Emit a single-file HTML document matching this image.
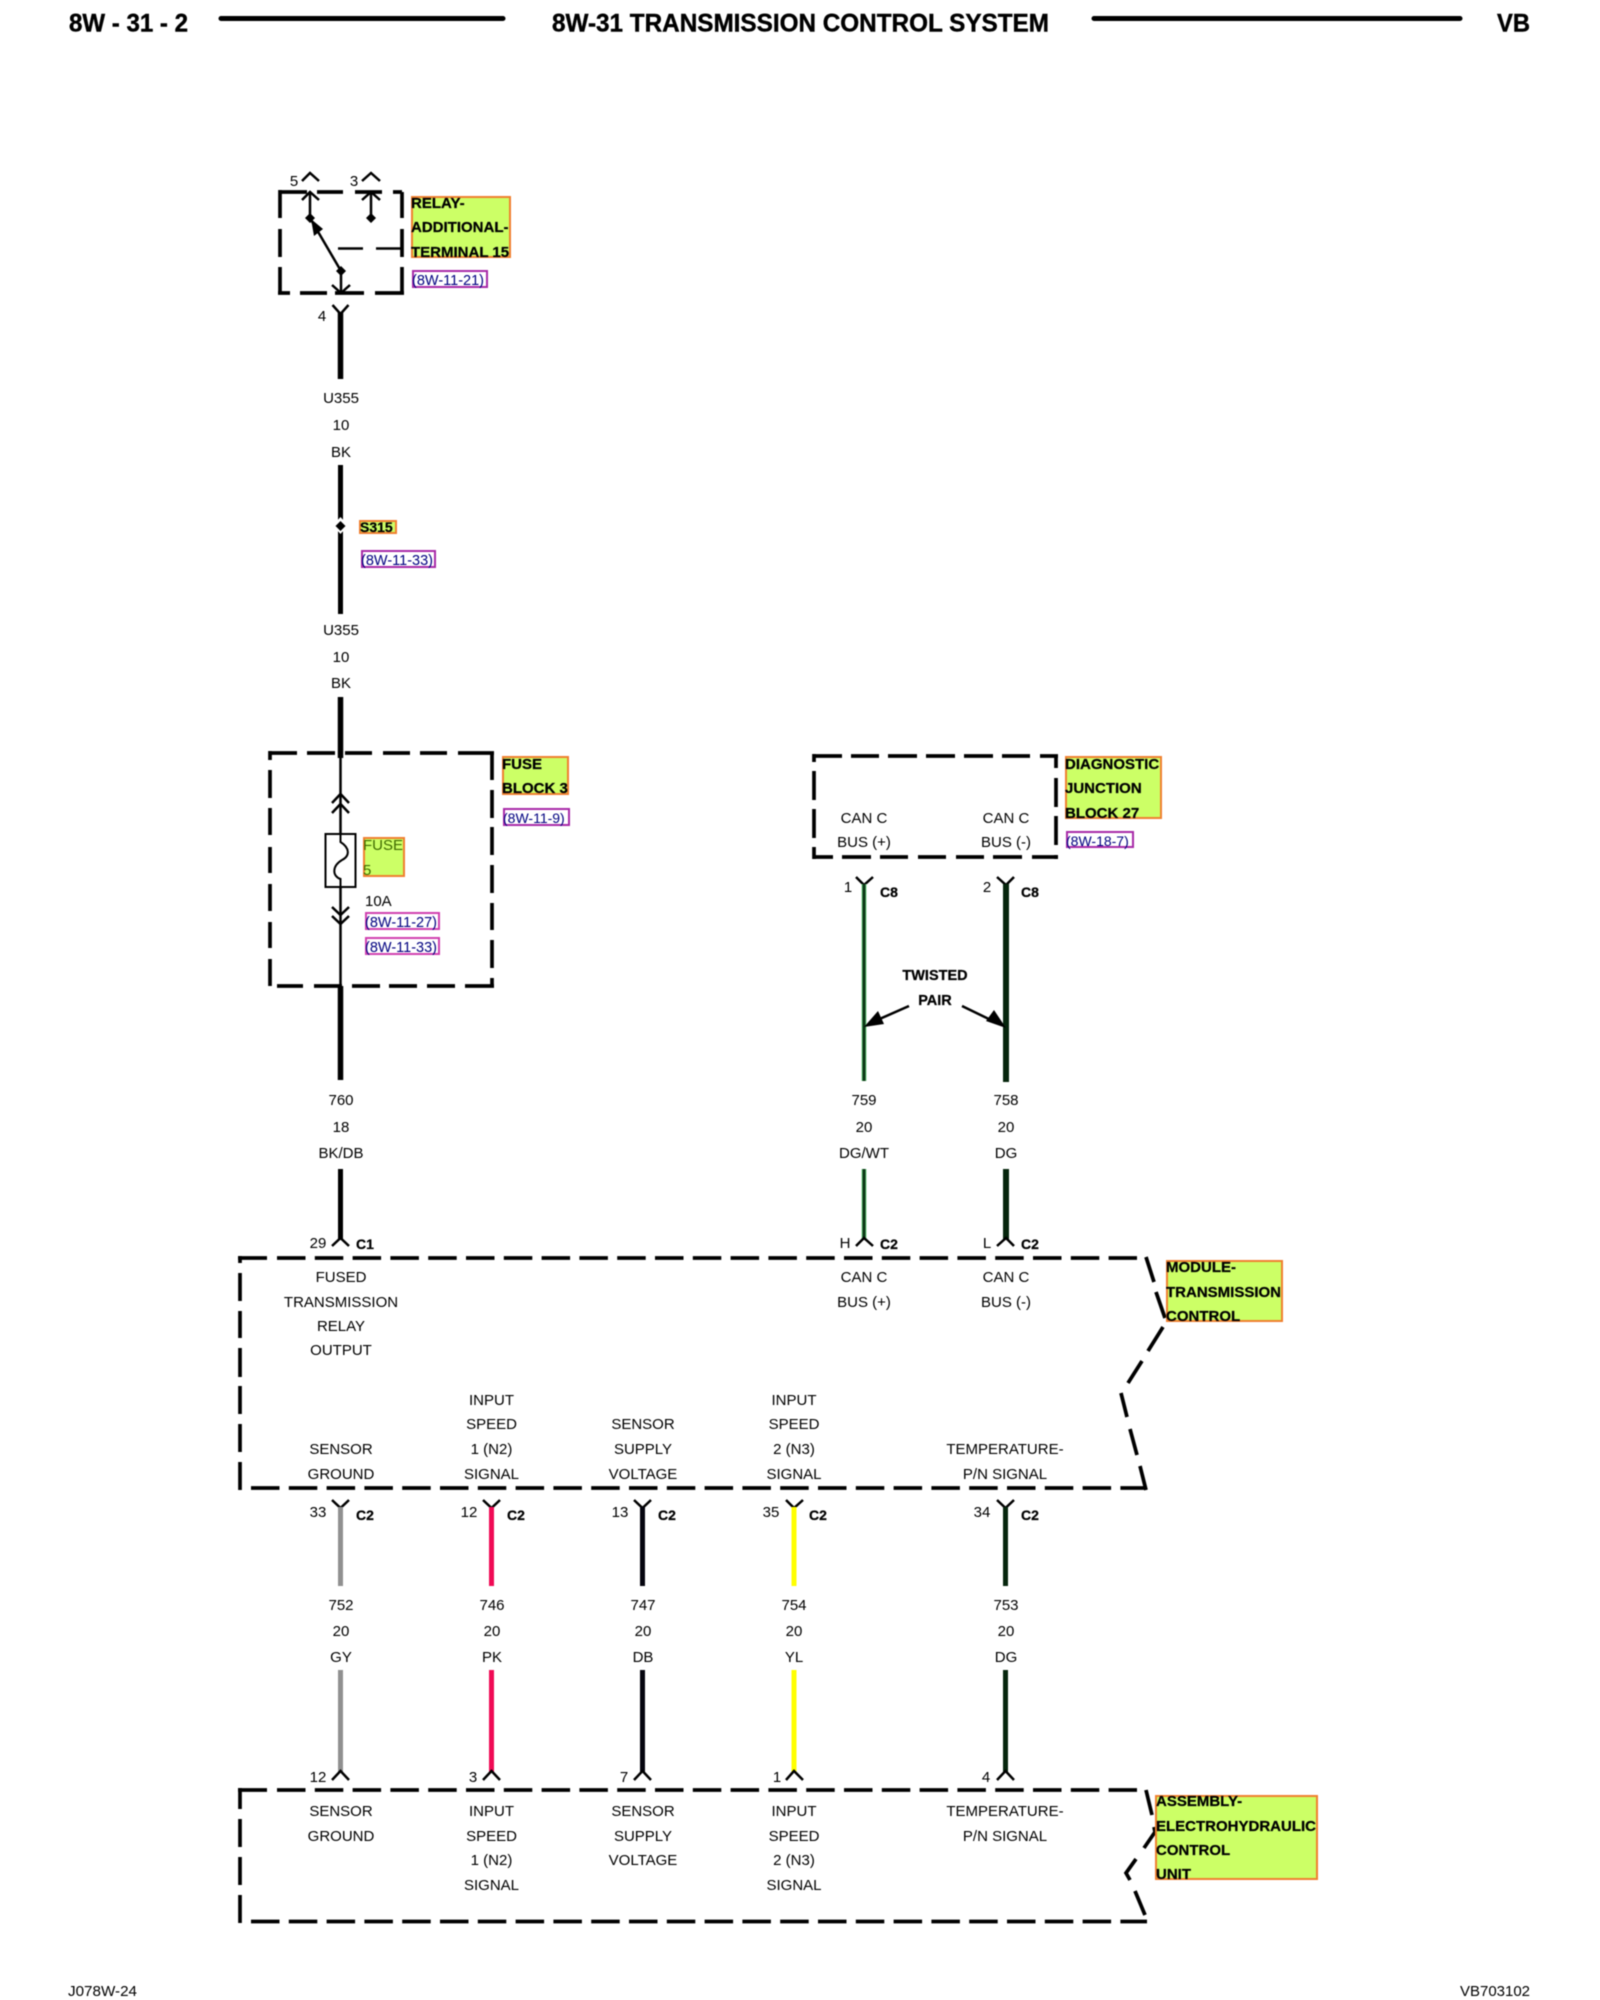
<!DOCTYPE html>
<html><head><meta charset="utf-8"><title>8W-31 Transmission Control System</title>
<style>
html,body{margin:0;padding:0;background:#fff}
svg{display:block;filter:blur(.4px)}
text{font-family:"Liberation Sans",sans-serif;font-size:15px;fill:#000}
.c{text-anchor:middle}
.b{font-weight:bold;fill:#000;stroke:#000;stroke-width:.25px}
.h{font-weight:bold;font-size:25px;fill:#000;stroke:#000;stroke-width:.4px}
.x{font-size:14.5px;fill:#000080}
.f{font-size:15px}
.l{fill:#ccff66;stroke:#f08030;stroke-width:2}
.r{fill:#fff;stroke:#a82aa8;stroke-width:2}
.d{stroke:#000;stroke-width:3.7;fill:none}
.y{stroke:#000;stroke-width:2.5;fill:none}
.k{stroke:#000;fill:none}
</style></head><body>
<svg xmlns="http://www.w3.org/2000/svg" width="1600" height="2000" viewBox="0 0 1600 2000">
<rect width="1600" height="2000" fill="#fff"/>
<!-- header -->
<text class="h" x="69" y="31.500" textLength="119" lengthAdjust="spacingAndGlyphs">8W - 31 - 2</text>
<path d="M221 18.500H503M1094 18.500H1460" stroke="#000" stroke-width="5" stroke-linecap="round"/>
<text class="h" x="552" y="31.500" textLength="497" lengthAdjust="spacingAndGlyphs">8W-31 TRANSMISSION CONTROL SYSTEM</text>
<text class="h" x="1497" y="31.500" textLength="33" lengthAdjust="spacingAndGlyphs">VB</text>

<!-- relay -->
<path class="d" d="M280 192H307M317 192H343M355 192H382M393 192H402M280 190V218M280 229V257M280 267V293M278 293H290M300 293H327M335 293H364M375 293H404M402 192V218M402 229V257M402 267V293"/>
<path class="k" stroke-width="2.500" d="M338 248.500H363M376 248.500H402"/>
<polyline class="y" points="302,181 310,173 319,181"/><polyline class="y" points="302,200 310,192 319,200"/>
<polyline class="y" points="362,181 371,173 380,181"/><polyline class="y" points="362,200 371,192 380,200"/>
<path class="k" stroke-width="2.500" d="M310 192V218M371 192V218M310 218L341 271M341 271V293"/>
<path d="M310 213l5 5-5 5-5-5zM371 213l5 5-5 5-5-5zM341 266l5 5-5 5-5-5z" fill="#000"/>
<path d="M311 219L323 229L314 236Z" fill="#000"/>
<polyline class="y" points="332,285 341,293 350,285"/>
<text x="294" y="186" class="c">5</text><text x="354" y="186" class="c">3</text>
<rect class="l" x="412" y="197" width="98" height="60"/>
<text class="b" x="411" y="208">RELAY-</text>
<text class="b" x="411" y="232">ADDITIONAL-</text>
<text class="b" x="411" y="257">TERMINAL 15</text>
<rect class="r" x="413" y="271" width="74" height="16"/>
<text class="x" x="412" y="285">(8W-11-21)</text>

<!-- top wire -->
<polyline class="y" points="332.500,305 340.500,314 348.500,305"/>
<path class="k" stroke-width="5.500" d="M340.500 312V379"/>
<text x="322" y="321" class="c">4</text>
<text class="c" x="341" y="403">U355</text><text class="c" x="341" y="430">10</text><text class="c" x="341" y="457">BK</text>
<path class="k" stroke-width="5" d="M340.500 465V614"/>
<path d="M340.500 520l5 5.500-5 5.500-5-5.500z" fill="#fff" stroke="#fff" stroke-width="4"/>
<path d="M340.500 521l5 5-5 5-5-5z" fill="#000"/>
<rect class="l" x="360" y="521" width="36" height="12"/>
<text class="b" x="360" y="532" style="font-size:14px">S315</text>
<rect class="r" x="362" y="551" width="73" height="16"/>
<text class="x" x="361" y="565">(8W-11-33)</text>
<text class="c" x="341" y="635">U355</text><text class="c" x="341" y="662">10</text><text class="c" x="341" y="688">BK</text>

<!-- fuse block -->
<path class="k" stroke-width="5.500" d="M340.500 697V758"/>
<path class="d" d="M270 753H297M307 753H335M345 753H372M383 753H410M420 753H447M458 753H494M270 751V760M270 770V798M270 808V835M270 847V873M270 884V911M270 922V948M270 959V986M277 986H303M314 986H342M352 986H380M389 986H417M427 986H455M465 986H494M492 753V780M492 790V818M492 827V855M492 865V893M492 903V930M492 940V968M492 978V986"/>
<path class="k" stroke-width="2.500" d="M340.500 758V834M340.500 887V986"/>
<polyline class="y" points="332,803 340.500,794 349,803"/><polyline class="y" points="332,813 340.500,804 349,813"/>
<polyline class="y" points="332,907 340.500,915 349,907"/><polyline class="y" points="332,916 340.500,924 349,916"/>
<rect x="325.500" y="834" width="30" height="53" fill="#fff" stroke="#000" stroke-width="2"/>
<path class="k" stroke-width="2" d="M340.500 834V842C350 848 350 856 342 860C332 866 332 876 340.500 879V887"/>
<rect class="l" x="364" y="838" width="40" height="38"/>
<text x="363" y="850" style="fill:#3f6a00">FUSE</text><text x="363" y="875" style="fill:#3f6a00">5</text>
<text x="365" y="906">10A</text>
<rect class="r" x="366" y="913" width="73" height="16" style="stroke:#d040b0"/>
<text class="x" x="365" y="927">(8W-11-27)</text>
<rect class="r" x="366" y="938" width="73" height="16" style="stroke:#d040b0"/>
<text class="x" x="365" y="952">(8W-11-33)</text>
<rect class="l" x="503" y="757" width="65" height="37"/>
<text class="b" x="502" y="769">FUSE</text><text class="b" x="502" y="793">BLOCK 3</text>
<rect class="r" x="504" y="809" width="65" height="16"/>
<text class="x" x="503" y="823" style="font-size:14px">(8W-11-9)</text>
<path class="k" stroke-width="5.500" d="M340.500 986V1080"/>
<text class="c" x="341" y="1105">760</text><text class="c" x="341" y="1132">18</text><text class="c" x="341" y="1158">BK/DB</text>
<path class="k" stroke-width="5" d="M340.500 1169V1240"/>

<!-- diagnostic -->
<path class="d" d="M814 756H842M851 756H879M888 756H917M926 756H955M964 756H993M1002 756H1030M1040 756H1058M814 754V762M814 771V800M814 809V838M814 847V859M814 857H833M842 857H871M880 857H908M918 857H946M956 857H984M993 857H1022M1032 857H1058M1056 756V768M1056 778V807M1056 816V845M1056 855V859"/>
<text class="c" x="864" y="823">CAN C</text><text class="c" x="864" y="847">BUS (+)</text>
<text class="c" x="1006" y="823">CAN C</text><text class="c" x="1006" y="847">BUS (-)</text>
<rect class="l" x="1066" y="757" width="95" height="61"/>
<text class="b" x="1065" y="769">DIAGNOSTIC</text><text class="b" x="1065" y="793">JUNCTION</text><text class="b" x="1065" y="818">BLOCK 27</text>
<rect class="r" x="1067" y="832" width="66" height="15"/>
<text class="x" x="1066" y="846" style="font-size:14px">(8W-18-7)</text>
<polyline class="y" points="856,877 864,885 873,877"/><polyline class="y" points="997,877 1006,885 1014,877"/>
<path d="M864 884V1081" stroke="#77cc88" stroke-width="5"/><path d="M864 884V1081" stroke="#0b3a16" stroke-width="3"/>
<path d="M1006 884V1082" stroke="#06260d" stroke-width="6"/>
<text class="c" x="848" y="892">1</text><text class="c" x="987" y="892">2</text>
<text class="b c" x="889" y="897" style="font-size:14px">C8</text><text class="b c" x="1030" y="897" style="font-size:14px">C8</text>
<text class="b c" x="935" y="980" style="font-size:14.500px">TWISTED</text><text class="b c" x="935" y="1005" style="font-size:14.500px">PAIR</text>
<path class="k" stroke-width="2.500" d="M909 1006L875 1021M962 1006L995 1022"/>
<path d="M864 1027L878 1011L884 1024ZM1006 1028L986 1021L994 1010Z" fill="#000"/>
<text class="c" x="864" y="1105">759</text><text class="c" x="864" y="1132">20</text><text class="c" x="864" y="1158">DG/WT</text>
<text class="c" x="1006" y="1105">758</text><text class="c" x="1006" y="1132">20</text><text class="c" x="1006" y="1158">DG</text>
<path d="M864 1169V1240" stroke="#77cc88" stroke-width="5"/><path d="M864 1169V1240" stroke="#0b3a16" stroke-width="3"/>
<path d="M1006 1169V1240" stroke="#06260d" stroke-width="6"/>

<!-- C1 connectors -->
<polyline class="y" points="332,1246 340.500,1238 349,1246"/><polyline class="y" points="856,1246 864,1238 873,1246"/><polyline class="y" points="997,1246 1006,1238 1014,1246"/>
<text class="c" x="318" y="1248">29</text><text class="b c" x="365" y="1249" style="font-size:14px">C1</text>
<text class="c" x="845" y="1248">H</text><text class="b c" x="889" y="1249" style="font-size:14px">C2</text>
<text class="c" x="987" y="1248">L</text><text class="b c" x="1030" y="1249" style="font-size:14px">C2</text>

<!-- module box -->
<path class="d" d="M238 1258H267"/>
<path class="d" stroke-dasharray="28.500 9.300" d="M277 1258H1137"/>
<path class="d" d="M240 1256V1263M240 1273V1301M240 1311V1338M240 1348V1377M240 1386V1414M240 1424V1452M240 1462V1490"/>
<path class="d" stroke-dasharray="28.500 9.300" d="M251 1488H1147"/>
<path class="d" d="M1146 1257L1154 1282M1156 1292L1165 1318M1163 1327L1148 1351M1142 1361L1128 1383M1121 1393L1127 1417M1130 1429L1137 1455M1140 1466L1146 1490"/>
<text class="c" x="341" y="1282">FUSED</text><text class="c" x="341" y="1307">TRANSMISSION</text><text class="c" x="341" y="1331">RELAY</text><text class="c" x="341" y="1355">OUTPUT</text>
<text class="c" x="864" y="1282">CAN C</text><text class="c" x="864" y="1307">BUS (+)</text>
<text class="c" x="1006" y="1282">CAN C</text><text class="c" x="1006" y="1307">BUS (-)</text>
<text class="c" x="341" y="1454">SENSOR</text><text class="c" x="341" y="1479">GROUND</text>
<text class="c" x="491.500" y="1405">INPUT</text><text class="c" x="491.500" y="1429">SPEED</text><text class="c" x="491.500" y="1454">1 (N2)</text><text class="c" x="491.500" y="1479">SIGNAL</text>
<text class="c" x="643" y="1429">SENSOR</text><text class="c" x="643" y="1454">SUPPLY</text><text class="c" x="643" y="1479">VOLTAGE</text>
<text class="c" x="794" y="1405">INPUT</text><text class="c" x="794" y="1429">SPEED</text><text class="c" x="794" y="1454">2 (N3)</text><text class="c" x="794" y="1479">SIGNAL</text>
<text class="c" x="1005" y="1454">TEMPERATURE-</text><text class="c" x="1005" y="1479">P/N SIGNAL</text>
<rect class="l" x="1167" y="1261" width="115" height="60"/>
<text class="b" x="1166" y="1272">MODULE-</text><text class="b" x="1166" y="1297">TRANSMISSION</text><text class="b" x="1166" y="1321">CONTROL</text>

<!-- lower wires -->
<g>
<polyline class="y" points="332,1500 340.500,1508 349,1500"/><polyline class="y" points="483,1500 491.500,1508 500,1500"/><polyline class="y" points="634,1500 642.500,1508 651,1500"/><polyline class="y" points="786,1500 794,1508 803,1500"/><polyline class="y" points="997,1500 1005.500,1508 1014,1500"/>
<path d="M340.500 1507V1586M340.500 1670V1772" stroke="#909090" stroke-width="5"/>
<path d="M491.500 1507V1586M491.500 1670V1772" stroke="#f00a55" stroke-width="5"/>
<path d="M642.500 1507V1586M642.500 1670V1772" stroke="#05050f" stroke-width="5"/>
<path d="M794 1507V1586M794 1670V1772" stroke="#ffff00" stroke-width="5"/>
<path d="M1005.500 1507V1586M1005.500 1670V1772" stroke="#06260d" stroke-width="5"/>
<polyline class="y" points="332,1780 340.500,1771 349,1780"/><polyline class="y" points="483,1780 491.500,1771 500,1780"/><polyline class="y" points="634,1780 642.500,1771 651,1780"/><polyline class="y" points="786,1780 794,1771 803,1780"/><polyline class="y" points="997,1780 1005.500,1771 1014,1780"/>
</g>
<text class="c" x="318" y="1517">33</text><text class="b c" x="365" y="1520" style="font-size:14px">C2</text>
<text class="c" x="469" y="1517">12</text><text class="b c" x="516" y="1520" style="font-size:14px">C2</text>
<text class="c" x="620" y="1517">13</text><text class="b c" x="667" y="1520" style="font-size:14px">C2</text>
<text class="c" x="771" y="1517">35</text><text class="b c" x="818" y="1520" style="font-size:14px">C2</text>
<text class="c" x="982" y="1517">34</text><text class="b c" x="1030" y="1520" style="font-size:14px">C2</text>
<text class="c" x="341" y="1610">752</text><text class="c" x="341" y="1636">20</text><text class="c" x="341" y="1662">GY</text>
<text class="c" x="492" y="1610">746</text><text class="c" x="492" y="1636">20</text><text class="c" x="492" y="1662">PK</text>
<text class="c" x="643" y="1610">747</text><text class="c" x="643" y="1636">20</text><text class="c" x="643" y="1662">DB</text>
<text class="c" x="794" y="1610">754</text><text class="c" x="794" y="1636">20</text><text class="c" x="794" y="1662">YL</text>
<text class="c" x="1006" y="1610">753</text><text class="c" x="1006" y="1636">20</text><text class="c" x="1006" y="1662">DG</text>
<text class="c" x="318" y="1782">12</text><text class="c" x="473" y="1782">3</text><text class="c" x="624" y="1782">7</text><text class="c" x="777" y="1782">1</text><text class="c" x="986" y="1782">4</text>

<!-- assembly box -->
<path class="d" d="M238 1790H267"/>
<path class="d" stroke-dasharray="28.500 9.300" d="M277 1790H1137"/>
<path class="d" d="M240 1788V1809M240 1819V1847M240 1857V1885M240 1895V1923"/>
<path class="d" stroke-dasharray="28.500 9.300" d="M251 1921.500H1147"/>
<path class="d" d="M1146 1790L1152 1815M1154 1827L1155 1832L1144 1848M1136 1859L1126 1873L1130 1880M1135 1891L1145 1915"/>
<text class="c" x="341" y="1816">SENSOR</text><text class="c" x="341" y="1841">GROUND</text>
<text class="c" x="491.500" y="1816">INPUT</text><text class="c" x="491.500" y="1841">SPEED</text><text class="c" x="491.500" y="1865">1 (N2)</text><text class="c" x="491.500" y="1890">SIGNAL</text>
<text class="c" x="643" y="1816">SENSOR</text><text class="c" x="643" y="1841">SUPPLY</text><text class="c" x="643" y="1865">VOLTAGE</text>
<text class="c" x="794" y="1816">INPUT</text><text class="c" x="794" y="1841">SPEED</text><text class="c" x="794" y="1865">2 (N3)</text><text class="c" x="794" y="1890">SIGNAL</text>
<text class="c" x="1005" y="1816">TEMPERATURE-</text><text class="c" x="1005" y="1841">P/N SIGNAL</text>
<rect class="l" x="1156" y="1796" width="161" height="83"/>
<text class="b" x="1156" y="1806">ASSEMBLY-</text><text class="b" x="1156" y="1831">ELECTROHYDRAULIC</text><text class="b" x="1156" y="1855">CONTROL</text><text class="b" x="1156" y="1879">UNIT</text>

<!-- footer -->
<text class="f" x="68" y="1996" textLength="69" lengthAdjust="spacingAndGlyphs">J078W-24</text>
<text class="f" x="1460" y="1996" textLength="70" lengthAdjust="spacingAndGlyphs">VB703102</text>
</svg>
</body></html>
